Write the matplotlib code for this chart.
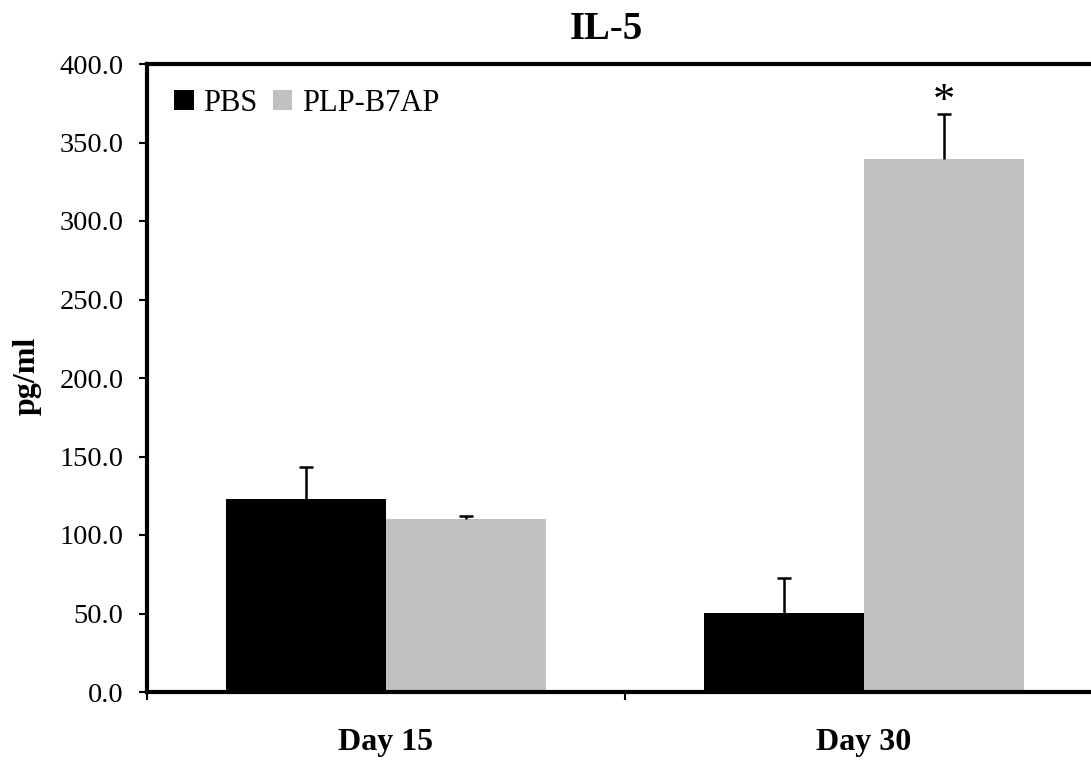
import numpy as np
import matplotlib
matplotlib.use("Agg")
import matplotlib.pyplot as plt
from matplotlib.patches import Patch

# Data
categories = ["Day 15", "Day 30"]
series_names = ["PBS", "PLP-B7AP"]
pbs_values = [123.0, 50.5]
pbs_errors = [20.0, 22.0]
plp_values = [110.0, 339.5]
plp_errors = [2.0, 28.5]
plp_marks = ["", "*"]
y_ticks = [0, 50, 100, 150, 200, 250, 300, 350, 400]
title = "IL-5"
y_label = "pg/ml"

plt.rcParams["font.family"] = ["Liberation Serif", "DejaVu Serif"]

W, H = 1091, 762
fig = plt.figure(figsize=(W / 100, H / 100), dpi=100)
ax = fig.add_axes([147 / W, 1 - 692 / H, (1103 - 147) / W, (692 - 64) / H])

x = np.arange(len(categories))
width = 0.335


def draw_series(xpos, values, errors, color):
    values = np.asarray(values)
    errors = np.asarray(errors)
    ax.bar(xpos, values, width, color=color, zorder=2)
    # upper-only error bars: stem plus a cap at the top
    ax.vlines(xpos, values, values + errors, color="black", linewidth=1.8, zorder=3)
    ax.plot(xpos, values + errors, linestyle="none", marker="_",
            markersize=10, markeredgewidth=1.8, color="black", zorder=3)


draw_series(x - width / 2, pbs_values, pbs_errors, "black")
draw_series(x + width / 2, plp_values, plp_errors, "#c0c0c0")

for i, mark in enumerate(plp_marks):
    if mark:
        ax.annotate(mark, xy=(x[i] + width / 2, plp_values[i] + plp_errors[i]),
                    xytext=(0, 1), textcoords="offset points",
                    ha="center", va="baseline", fontsize=32)

ax.set_xlim(-0.5, len(categories) - 0.5)
ax.set_ylim(0, 400)

ax.set_yticks(y_ticks)
ax.set_yticklabels([f"{v:.1f}" for v in y_ticks], fontsize=20.5)
ax.tick_params(axis="y", direction="out", length=6, width=1.5, pad=11)

ax.set_xticks(np.arange(len(categories) + 1) - 0.5)
ax.set_xticklabels([])
ax.tick_params(axis="x", which="major", direction="out", length=6, width=1.5)
ax.set_xticks(x, minor=True)
ax.set_xticklabels(categories, minor=True, fontsize=23, fontweight="bold")
ax.tick_params(axis="x", which="minor", length=0, pad=26)

for side in ["top", "right", "bottom", "left"]:
    ax.spines[side].set_linewidth(3)

fig.text(606 / W, 1 - 39 / H, title, ha="center", va="baseline",
         fontsize=28, fontweight="bold")
fig.text(27 / W, 1 - 376 / H, y_label, ha="center", va="center",
         rotation=90, fontsize=23, fontweight="bold")

handles = [Patch(facecolor="black", edgecolor="none"),
           Patch(facecolor="#c0c0c0", edgecolor="none")]
ax.legend(handles, series_names, loc="upper left", ncol=2, frameon=False,
          fontsize=22, handlelength=0.65, handleheight=0.65,
          handletextpad=0.3, columnspacing=0.5, borderpad=0, borderaxespad=0,
          bbox_to_anchor=(174 / W, 1 - 89 / H), bbox_transform=fig.transFigure)

fig.savefig("out.png", dpi=100)
